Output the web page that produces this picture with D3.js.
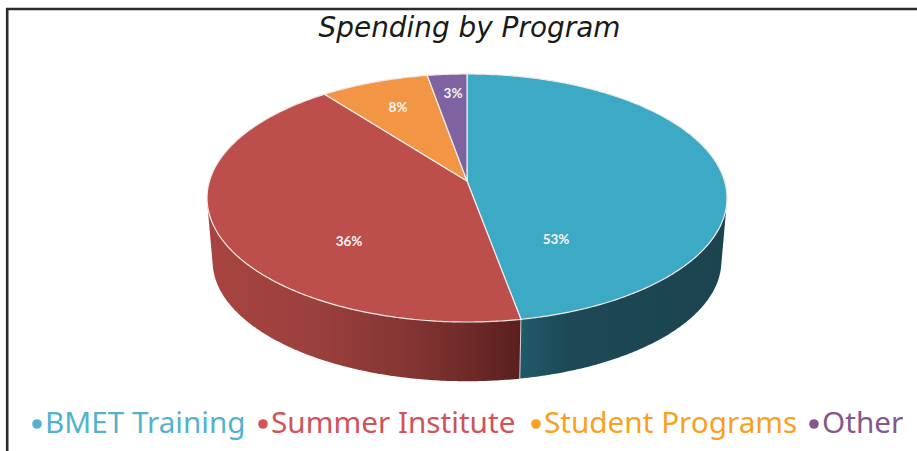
<!DOCTYPE html>
<html>
<head>
<meta charset="utf-8">
<script src="https://cdn.jsdelivr.net/npm/d3@7"></script>
<style>
  html, body { margin: 0; padding: 0; background: #fff; }
  svg { display: block; }
</style>
</head>
<body>
<svg id="chart" width="917" height="451"></svg>
<script>
/////// Data

var categories = ['BMET Training', 'Summer Institute', 'Student Programs', 'Other'];
// printed labels in the source do not agree with its slice sizes, so both are kept
var percentLabels = ['53%', '36%', '8%', '3%'];
var sliceSizes = [47.1, 42.4, 7.7, 2.8];

var topColors = ['#3ca9c5', '#bc4f4c', '#f29545', '#7f62a0'];
var legendColors = ['#55b2cd', '#cf5358', '#f9a11f', '#85578a'];

/////// Layout

var width = 917;
var height = 451;
var cx = 467;
var perspective = 0.137;

var topDisc = { a: 257.5, b: 121.7, y0: 181 };
var lowDisc = { a: 252, b: 118, y0: 244.5 };

var labelAt = [[556, 244], [349, 246], [398, 112], [453, 98]];
var legendX = [45, 271, 544, 822];

var svg = d3.select('#chart');

var project = function (disc, theta, r) {
  var u = r * Math.sin(theta);
  var v = -r * Math.cos(theta);
  var w = 1 - perspective * v;
  return [cx + disc.a * u / w, disc.y0 + disc.b * v / w];
};

var rimPoints = function (disc, start, end) {
  var n = Math.max(2, Math.ceil((end - start) / 0.01));
  return d3.range(n + 1).map(function (i) {
    return project(disc, start + (end - start) * i / n, 1);
  });
};

var line = d3.line();
var slices = d3.pie().sort(null).value(function (d) { return d; })(sliceSizes);

/////// Frame

svg.append('path')
    .attr('d', 'M7.2,' + height + 'V9H' + width)
    .attr('fill', 'none')
    .attr('stroke', '#2b2b2b')
    .attr('stroke-width', 2.6);

/////// Wall gradients

var defs = svg.append('defs');

var addGradient = function (id, stops) {
  var g = defs.append('linearGradient')
      .attr('id', id)
      .attr('gradientUnits', 'userSpaceOnUse')
      .attr('x1', 207).attr('x2', 727)
      .attr('y1', 0).attr('y2', 0);
  stops.forEach(function (s) {
    g.append('stop').attr('offset', s[0]).attr('stop-color', s[1]);
  });
};

addGradient('wall-0', [[0.6, '#205a6b'], [0.7, '#1d4855'], [1, '#1c4450']]);
addGradient('wall-1', [[0, '#a8443f'], [0.2, '#9c403d'], [0.4, '#823432'], [0.6, '#5a201f']]);
addGradient('wall-2', [[0, '#a8663a'], [1, '#a8663a']]);
addGradient('wall-3', [[0, '#54416b'], [1, '#54416b']]);

/////// Walls, hidden at the back by the top face

svg.append('g')
  .selectAll('path')
  .data(slices)
  .join('path')
    .attr('d', function (d) {
      var pts = rimPoints(topDisc, d.startAngle, d.endAngle)
        .concat(rimPoints(lowDisc, d.startAngle, d.endAngle));
      return line(d3.polygonHull(pts)) + 'Z';
    })
    .attr('fill', function (d, i) { return 'url(#wall-' + i + ')'; });

// seam between the two front walls
var seamAngle = slices[0].endAngle;
svg.append('path')
    .attr('d', line([project(topDisc, seamAngle, 1), project(lowDisc, seamAngle, 1)]))
    .attr('stroke', '#d9d2d0')
    .attr('stroke-width', 1)
    .attr('fill', 'none');

/////// Top face

svg.append('g')
  .selectAll('path')
  .data(slices)
  .join('path')
    .attr('d', function (d) {
      var apex = project(topDisc, 0, 0);
      return line([apex].concat(rimPoints(topDisc, d.startAngle, d.endAngle))) + 'Z';
    })
    .attr('fill', function (d, i) { return topColors[i]; })
    .attr('stroke', '#f1ecea')
    .attr('stroke-width', 1.2)
    .attr('stroke-linejoin', 'round');

/////// Percent labels

svg.append('g')
  .selectAll('text')
  .data(percentLabels)
  .join('text')
    .attr('x', function (d, i) { return labelAt[i][0]; })
    .attr('y', function (d, i) { return labelAt[i][1]; })
    .attr('text-anchor', 'middle')
    .attr('font-family', 'Lato, "Open Sans", sans-serif')
    .attr('font-weight', 700)
    .attr('font-size', 13.5)
    .attr('fill', '#fbf4f2')
    .text(function (d) { return d; });

/////// Title

svg.append('text')
    .attr('x', 469.5)
    .attr('y', 37)
    .attr('text-anchor', 'middle')
    .attr('font-family', '"DejaVu Sans", sans-serif')
    .attr('font-style', 'italic')
    .attr('font-size', 27.9)
    .attr('fill', '#1a1a1a')
    .text('Spending by Program');

/////// Legend

var legend = svg.append('g')
  .selectAll('g')
  .data(categories)
  .join('g');

legend.append('circle')
    .attr('cx', function (d, i) { return legendX[i] - 8; })
    .attr('cy', 424)
    .attr('r', 4.8)
    .attr('fill', function (d, i) { return legendColors[i]; });

legend.append('text')
    .attr('x', function (d, i) { return legendX[i]; })
    .attr('y', 433)
    .attr('font-family', '"Noto Sans", sans-serif')
    .attr('font-size', 29.7)
    .attr('fill', function (d, i) { return legendColors[i]; })
    .text(function (d) { return d; });
</script>
</body>
</html>
